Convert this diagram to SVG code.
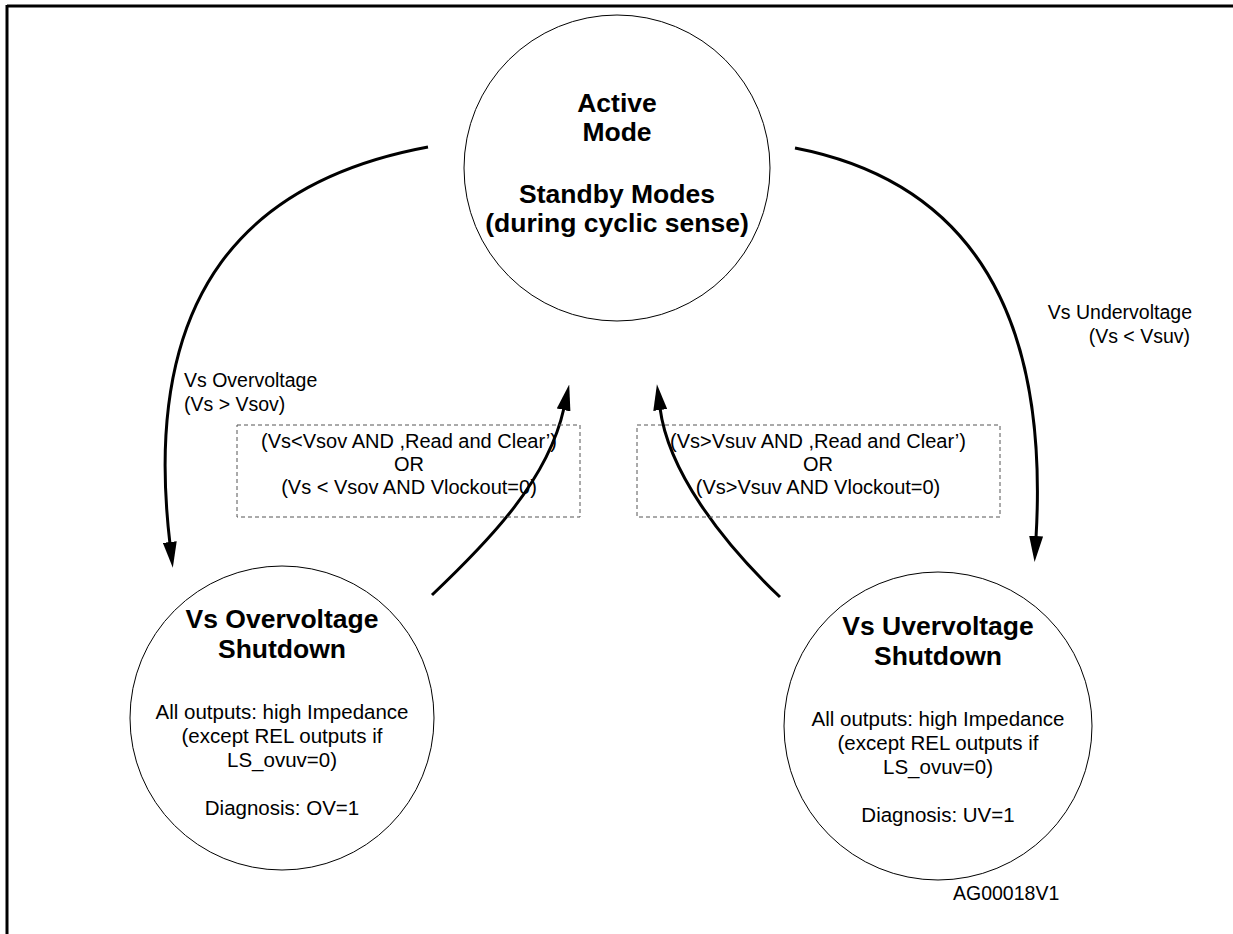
<svg xmlns="http://www.w3.org/2000/svg" width="1233" height="934" viewBox="0 0 1233 934">
<style>
.st{fill:#fff;stroke:#000;stroke-width:1}
.tb{font-family:"Liberation Sans",Arial,sans-serif;font-weight:bold;font-size:26.5px;fill:#000;text-anchor:middle}
.tr{font-family:"Liberation Sans",Arial,sans-serif;font-size:20.5px;fill:#000;text-anchor:middle}
.bx{font-family:"Liberation Sans",Arial,sans-serif;font-size:20px;fill:#000;text-anchor:middle}
.lb{font-family:"Liberation Sans",Arial,sans-serif;font-size:19.5px;fill:#000}
.cn{fill:none;stroke:#000;stroke-width:3}
.box{fill:none;stroke:#555;stroke-width:1;stroke-dasharray:4 3}
</style>
<defs>
<marker id="ah" viewBox="0 0 26 14" refX="2" refY="7" markerWidth="26" markerHeight="14" markerUnits="userSpaceOnUse" orient="auto">
<path d="M0,0 L26,7 L0,14 Z" fill="#000"/>
</marker>
</defs>
<rect width="1233" height="934" fill="#fff"/>
<g id="frame">
<line x1="7" y1="6" x2="1233" y2="6" stroke="#000" stroke-width="3"/>
<line x1="7" y1="5" x2="7" y2="934" stroke="#000" stroke-width="3"/>
</g>
<g id="active">
<circle class="st" cx="617" cy="168" r="153"/>
<text class="tb" x="617" y="112">Active</text>
<text class="tb" x="617" y="141">Mode</text>
<text class="tb" x="617" y="203">Standby Modes</text>
<text class="tb" x="617" y="232">(during cyclic sense)</text>
</g>
<g id="ov">
<circle class="st" cx="282" cy="718" r="152"/>
<text class="tb" x="282" y="628">Vs Overvoltage</text>
<text class="tb" x="282" y="658">Shutdown</text>
<text class="tr" x="282" y="719">All outputs: high Impedance</text>
<text class="tr" x="282" y="743">(except REL outputs if</text>
<text class="tr" x="282" y="767">LS_ovuv=0)</text>
<text class="tr" x="282" y="815">Diagnosis: OV=1</text>
</g>
<g id="uv">
<circle class="st" cx="938" cy="726" r="154"/>
<text class="tb" x="938" y="635">Vs Uvervoltage</text>
<text class="tb" x="938" y="665">Shutdown</text>
<text class="tr" x="938" y="726">All outputs: high Impedance</text>
<text class="tr" x="938" y="750">(except REL outputs if</text>
<text class="tr" x="938" y="774">LS_ovuv=0)</text>
<text class="tr" x="938" y="822">Diagnosis: UV=1</text>
</g>
<g id="connectors">
<path class="cn" d="M428,147 C250,180 140,290 170,544" marker-end="url(#ah)"/>
<path class="cn" d="M795,148 C960,180 1050,300 1036,538" marker-end="url(#ah)"/>
<path class="cn" d="M432,595 C490,540 548,480 564,408" marker-end="url(#ah)"/>
<path class="cn" d="M780,597 C720,540 668,470 660,408" marker-end="url(#ah)"/>
</g>
<g id="label-ov">
<text class="lb" x="184" y="387">Vs Overvoltage</text>
<text class="lb" x="184" y="411">(Vs &gt; Vsov)</text>
</g>
<g id="label-uv">
<text class="lb" x="1192" y="319" text-anchor="end">Vs Undervoltage</text>
<text class="lb" x="1190" y="343" text-anchor="end">(Vs &lt; Vsuv)</text>
</g>
<g id="cond-ov">
<rect class="box" x="237" y="425" width="343" height="92"/>
<text class="bx" x="409" y="448">(Vs&lt;Vsov AND ,Read and Clear’)</text>
<text class="bx" x="409" y="471">OR</text>
<text class="bx" x="409" y="494">(Vs &lt; Vsov AND Vlockout=0)</text>
</g>
<g id="cond-uv">
<rect class="box" x="637" y="425" width="363" height="92"/>
<text class="bx" x="818" y="448">(Vs&gt;Vsuv AND ,Read and Clear’)</text>
<text class="bx" x="818" y="471">OR</text>
<text class="bx" x="818" y="494">(Vs&gt;Vsuv AND Vlockout=0)</text>
</g>
<g id="ref">
<text class="lb" x="953" y="900" font-size="22">AG00018V1</text>
</g>
</svg>
